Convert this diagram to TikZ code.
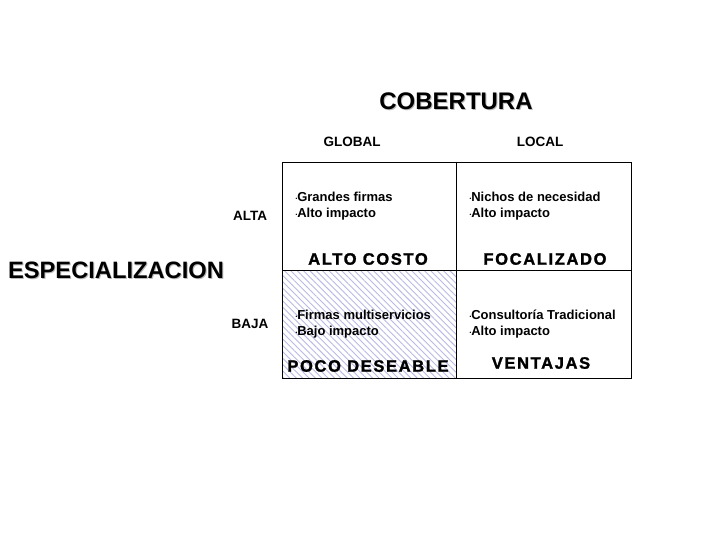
\documentclass[tikz,border=0pt]{standalone}
\usepackage{fontspec}
\setmainfont{Liberation Sans}
\newfontfamily\wide[LetterSpace=10,FakeBold=1.5]{Liberation Sans}
\usetikzlibrary{patterns.meta}
\definecolor{hatch}{RGB}{185,185,230}
\newcommand{\bul}{{\tiny\raisebox{0.3ex}{•}}}
\tikzset{
  cell/.style={draw=black, line width=0.8pt},
  hdr/.style={font=\bfseries\fontsize{13.5}{13.5}\selectfont},
  lst/.style={font=\bfseries\fontsize{13}{16.5}\selectfont, align=left, anchor=west},
  big/.style={font=\wide\bfseries\fontsize{16.5}{16.5}\selectfont},
}
\newcommand{\shtext}[4]{% name, pos, size, text
  \node[text=gray!55, font=\bfseries\fontsize{#3}{#3}\selectfont] at ([xshift=1pt,yshift=-1pt]#2) {#4};
  \node[font=\bfseries\fontsize{#3}{#3}\selectfont] (#1) at (#2) {#4};}
\begin{document}
\begin{tikzpicture}[x=1pt,y=-1pt]
\useasboundingbox (0,0) rectangle (720,540);
\fill[white] (0,0) rectangle (720,540);
\fill[pattern={Lines[angle=-45,distance=4.5pt,line width=0.9pt]}, pattern color=hatch] (282,270) rectangle (456,378);
\draw[cell] (282,162) rectangle (631,378);
\draw[cell] (456,162) -- (456,378);
\draw[cell] (282,270) -- (631,270);
\coordinate (c1) at (456,101);
\shtext{cob}{c1}{24}{COBERTURA}
\coordinate (c2) at (116,270);
\shtext{esp}{c2}{23.7}{ESPECIALIZACION}
\node[hdr] (glob) at (352,142) {GLOBAL};
\node[hdr] (loc) at (540,142) {LOCAL};
\node[hdr] (alta) at (250,216) {ALTA};
\node[hdr] (baja) at (250,324) {BAJA};
\node[lst] (l1) at (292,206) {\bul Grandes firmas\\\bul Alto impacto};
\node[lst] (l2) at (466,206) {\bul Nichos de necesidad\\\bul Alto impacto};
\node[lst] (l3) at (292,324) {\bul Firmas multiservicios\\\bul Bajo impacto};
\node[lst] (l4) at (466,324) {\bul Consultoría Tradicional\\\bul Alto impacto};
\node[big] (b1) at (368,259) {ALTO COSTO};
\node[big] (b2) at (545,259) {FOCALIZADO};
\node[big] (b3) at (368,366) {POCO DESEABLE};
\node[big] (b4) at (541,363) {VENTAJAS};
\end{tikzpicture}
\end{document}
